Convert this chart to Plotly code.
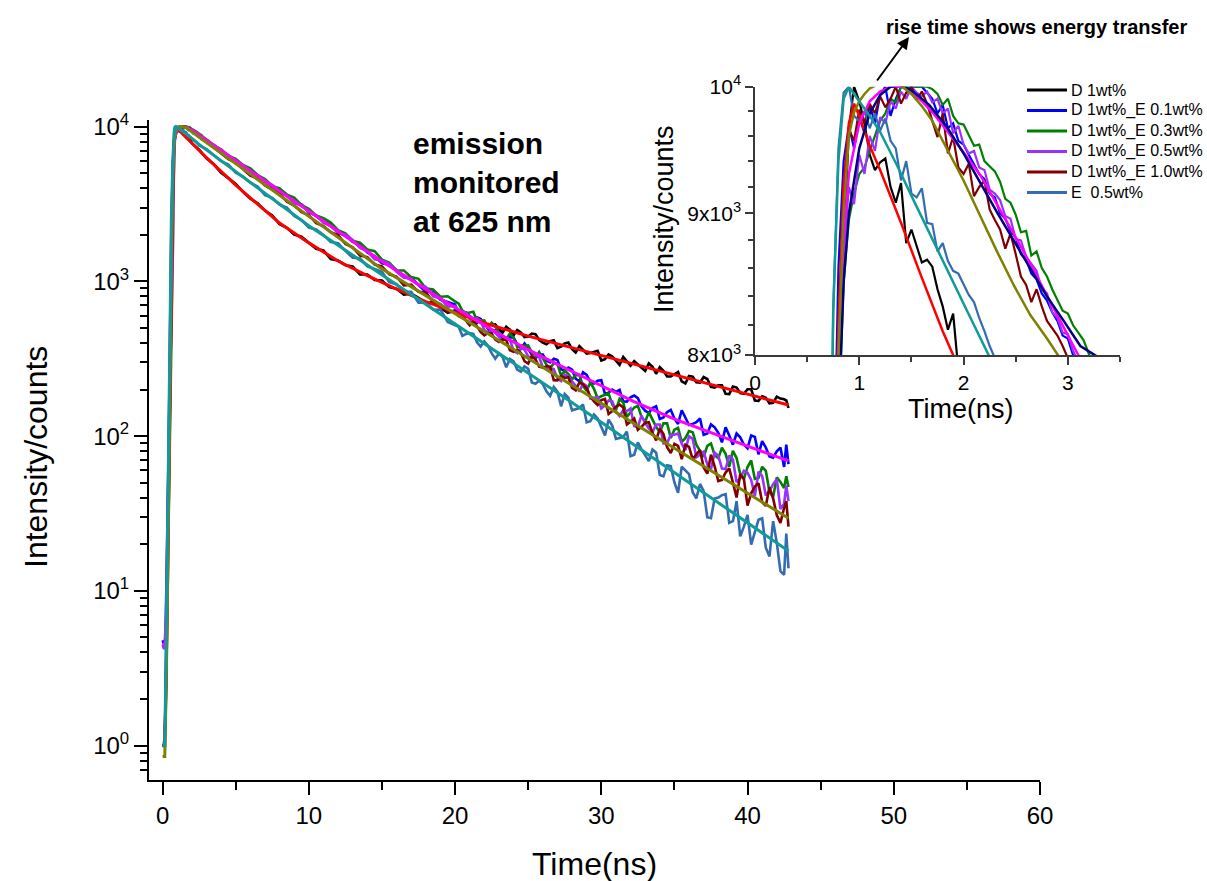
import plotly.graph_objects as go

# ------------------------------------------------------------------ data
# time grids (ns)
EARLY_T = [0.0, 0.1, 0.2, 0.3, 0.4, 0.5, 0.6]
FINE_T = [0.70, 0.75, 0.80, 0.85, 0.90, 0.95, 1.00, 1.05, 1.10, 1.15,
          1.20, 1.25, 1.30, 1.35, 1.40, 1.45, 1.50, 1.55, 1.60, 1.65,
          1.70, 1.75, 1.80, 1.85, 1.90, 1.95, 2.00, 2.05, 2.10, 2.15,
          2.20, 2.25, 2.30, 2.35, 2.40, 2.45, 2.50, 2.55, 2.60, 2.65,
          2.70, 2.75, 2.80, 2.85, 2.90, 2.95, 3.00, 3.05, 3.10, 3.15,
          3.20, 3.25]
COARSE_T = [2.5, 3.0, 3.5, 4.0, 4.5, 5.0, 5.5, 6.0, 6.5, 7.0,
            7.5, 8.0, 8.5, 9.0, 9.5, 10.0, 10.5, 11.0, 11.5, 12.0,
            12.5, 13.0, 13.5, 14.0, 14.5, 15.0, 15.5, 16.0, 16.5, 17.0,
            17.5, 18.0, 18.5, 19.0, 19.5, 20.0, 20.5, 21.0, 21.5, 22.0,
            22.5, 23.0, 23.5, 24.0, 24.5, 25.0, 25.5, 26.0, 26.5, 27.0,
            27.5, 28.0, 28.5, 29.0, 29.5, 30.0, 30.5, 31.0, 31.5, 32.0,
            32.5, 33.0, 33.5, 34.0, 34.5, 35.0, 35.5, 36.0, 36.5, 37.0,
            37.5, 38.0, 38.5, 39.0, 39.5, 40.0, 40.5, 41.0, 41.5, 42.0,
            42.5]
MID_T = [20.25, 20.75, 21.25, 21.75, 22.25, 22.75, 23.25, 23.75, 24.25, 24.75,
         25.25, 25.75, 26.25, 26.75, 27.25, 27.75, 28.25, 28.75, 29.25, 29.75,
         30.25, 30.75, 31.25, 31.75, 32.25, 32.75, 33.25, 33.75, 34.25, 34.75,
         35.25, 35.75, 36.25, 36.75, 37.25, 37.75, 38.25, 38.75, 39.25, 39.75,
         40.25, 40.75, 41.25, 41.75, 42.25]
END_T = [42.65, 42.8]

# D 1wt%  (black)
d1_early = [1.0, 1.0, 1.6, 9, 55, 320, 1600]
d1_fine = [5000, 7200, 7900, 8700, 9650, 10000, 9880, 9700, 9450, 9330,
           9390, 9420, 9200, 9080, 9230, 8780, 8880, 8760, 8640, 8660,
           8610, 8450, 8330, 8170, 8280, 7900, 7820]
d1_coarse = [7113, 6247, 5712, 5037, 4650, 4263, 3788, 3418, 3200, 2870,
             2670, 2344, 2220, 2009, 1944, 1790, 1627, 1586, 1392, 1364,
             1273, 1248, 1107, 1108, 1021, 1015, 918, 897, 822, 834,
             783, 720, 738, 675, 626, 650, 592, 590, 586, 517,
             524, 490, 509, 449, 468, 440, 456, 402, 411, 371,
             397, 365, 382, 342, 349, 308, 337, 308, 325, 285,
             290, 264, 281, 279, 243, 253, 226, 245, 223, 241,
             208, 213, 188, 209, 190, 201, 170, 181, 163, 180,
             173]
d1_mid = [598, 605, 542, 572, 521, 528, 468, 487, 485, 437,
          460, 418, 393, 416, 379, 403, 347, 364, 345, 356,
          314, 327, 289, 303, 305, 277, 295, 253, 264, 243,
          260, 219, 242, 222, 234, 206, 213, 187, 206, 188,
          201, 169, 177, 164, 175]
d1_end = [170, 152]

# D 1wt%_E 0.1wt%  (blue)
e01_early = [4.8, 4.5, 5.0, 20, 90, 420, 1500]
e01_fine = [4000, 7000, 8600, 9400, 9680, 9500, 9750, 9620, 9850, 9700,
            9930, 10000, 9760, 9900, 10000, 10000, 10000, 10000, 10000, 9950,
            9900, 9780, 9850, 9660, 9700, 9560, 9530, 9450, 9380, 9300,
            9260, 9150, 9120, 9000, 8960, 8870, 8820, 8700, 8660, 8560,
            8520, 8420, 8370, 8290, 8230, 8130, 8110, 8000, 7950]
e01_coarse = [7640, 6957, 6408, 6073, 5574, 5265, 4750, 4471, 4070, 3896,
              3590, 3274, 3146, 2797, 2655, 2437, 2321, 2048, 1984, 1799,
              1739, 1537, 1458, 1308, 1284, 1184, 1069, 1059, 946, 854,
              856, 760, 736, 708, 609, 598, 540, 544, 466, 471,
              428, 434, 367, 367, 318, 337, 300, 310, 267, 269,
              226, 249, 219, 230, 191, 193, 168, 178, 176, 146,
              152, 129, 143, 130, 147, 118, 123, 102, 119, 105,
              114, 88.1, 98.3, 83.6, 98.9, 92.8, 74.0, 79.8, 63.2]
e01_mid = [619, 631, 569, 566, 493, 484, 421, 436, 392, 397,
           336, 338, 308, 316, 270, 278, 235, 259, 224, 228,
           187, 200, 199, 167, 183, 156, 141, 156, 132, 148,
           120, 133, 120, 130, 104, 114, 91.1, 101, 104, 88.2,
           101, 76.3, 84.5, 72.7, 84.4]
e01_end = [88, 66]

# D 1wt%_E 0.3wt%  (green)
e03_early = [1.0, 1.0, 1.3, 6, 30, 150, 600]
e03_fine = [2000, 5000, 7500, 8500, 8950, 9150, 9300, 9350, 9480, 9600,
            9720, 9780, 9900, 9870, 10000, 10000, 10000, 10000, 10000, 10000,
            9980, 9940, 9850, 9900, 9760, 9700, 9690, 9600, 9520, 9530,
            9400, 9360, 9320, 9240, 9110, 9080, 8990, 8860, 8870, 8690,
            8720, 8600, 8540, 8450, 8380, 8300, 8280, 8200, 8150, 8100,
            8010, 7920]
e03_coarse = [7562, 7124, 6480, 6185, 5655, 5374, 4865, 4592, 4139, 3991,
              3638, 3474, 3114, 2940, 2669, 2559, 2402, 2142, 2042, 1831,
              1782, 1608, 1569, 1381, 1323, 1177, 1177, 1066, 1039, 903,
              887, 796, 801, 742, 648, 630, 550, 559, 540, 466,
              423, 431, 385, 386, 322, 320, 275, 292, 266, 233,
              249, 196, 202, 181, 189, 147, 165, 143, 157, 124,
              128, 106, 121, 110, 91.9, 108, 88.1, 73.5, 89.7, 71.9,
              76.9, 80.4, 56.9, 63.2, 52.9, 63.4, 43.9, 54.1, 46.2]
e03_mid = [718, 626, 636, 557, 503, 512, 447, 461, 378, 384,
           348, 350, 290, 296, 246, 252, 248, 211, 223, 176,
           184, 160, 174, 133, 153, 133, 143, 115, 121, 97.5,
           113, 97.0, 106, 79.9, 86.5, 75.3, 84.1, 63.5, 72.2, 52.9,
           69.6, 53.7, 59.6, 40.4, 50.6]
e03_end = [55, 47]

# D 1wt%_E 0.5wt%  (violet)
e05_early = [4.5, 4.2, 4.5, 12, 50, 200, 500]
e05_fine = [1500, 4500, 7600, 8700, 9200, 9070, 9450, 9300, 9600, 9480,
            9750, 9700, 9880, 9820, 9960, 9900, 10000, 9950, 9920, 9960,
            9870, 9900, 9780, 9820, 9620, 9680, 9530, 9460, 9480, 9350,
            9330, 9180, 9150, 9100, 8980, 8960, 8810, 8800, 8680, 8630,
            8580, 8450, 8420, 8290, 8250, 8150, 8140, 8030, 7950]
e05_coarse = [7398, 6998, 6532, 5911, 5573, 5063, 4833, 4404, 4210, 3780,
              3561, 3209, 3099, 2822, 2686, 2386, 2281, 2064, 2007, 1851,
              1646, 1567, 1391, 1360, 1298, 1152, 1054, 1040, 943, 920,
              800, 775, 687, 694, 637, 570, 581, 485, 482, 438,
              435, 357, 372, 328, 338, 280, 275, 236, 250, 226,
              194, 211, 177, 151, 170, 144, 147, 151, 115, 122,
              106, 119, 89.9, 102, 89.4, 99.8, 73.1, 79.4, 61.1, 74.8,
              61.3, 70.7, 53.4, 58.1, 41.0, 55.3, 44.3, 52.7, 36.6]
e05_mid = [652, 627, 554, 558, 469, 465, 414, 421, 344, 362,
           320, 324, 273, 271, 227, 244, 212, 219, 175, 179,
           158, 168, 135, 145, 116, 136, 112, 119, 89.7, 102,
           104, 81.3, 95.9, 76.3, 65.7, 78.2, 61.8, 75.0, 50.4, 59.8,
           52.2, 58.9, 41.4, 49.0, 33.8]
e05_end = [48, 38]

# D 1wt%_E 1.0wt%  (dark red)
e10_early = [1.0, 1.0, 1.5, 8, 45, 250, 1100]
e10_fine = [3500, 6200, 7900, 9200, 9650, 9560, 9810, 9700, 9860, 9780,
            9920, 9830, 9900, 10000, 9860, 9950, 10000, 9890, 9960, 9860,
            9720, 9590, 9780, 9460, 9590, 9350, 9300, 9380, 9130, 9200,
            9250, 9030, 8950, 8880, 8740, 8850, 8700, 8540, 8480, 8360,
            8450, 8330, 8230, 8180, 8130, 8060, 7970, 7900]
e10_coarse = [7353, 6765, 6156, 5853, 5306, 4832, 4614, 4174, 3922, 3684,
              3270, 3088, 2807, 2686, 2377, 2280, 2076, 1990, 1743, 1658,
              1469, 1436, 1285, 1250, 1110, 1072, 942, 953, 856, 847,
              737, 712, 635, 634, 604, 521, 514, 448, 460, 406,
              417, 351, 345, 294, 313, 277, 281, 229, 238, 205,
              222, 204, 168, 171, 139, 155, 153, 124, 110, 122,
              105, 112, 84.7, 89.2, 71.1, 85.2, 76.2, 62.8, 75.9, 51.3,
              58.2, 50.2, 56.7, 35.6, 47.3, 37.5, 46.7, 30.9, 34.3]
e10_mid = [621, 558, 556, 471, 465, 421, 423, 359, 363, 305,
           329, 281, 283, 230, 244, 240, 198, 216, 180, 159,
           174, 145, 160, 119, 130, 115, 123, 93.8, 103, 77.8,
           86.4, 87.9, 70.9, 81.4, 57.2, 63.9, 52.1, 61.9, 40.1, 52.9,
           42.7, 49.7, 35.4, 39.6, 27.5]
e10_end = [38, 26]

# E 0.5wt%  (steel blue)
eonly_early = [1.0, 1.0, 1.8, 12, 80, 500, 2200]
eonly_fine = [5500, 8300, 9500, 9950, 10000, 9760, 9720, 9800, 9660, 9780,
              9640, 9740, 9560, 9500, 9250, 9400, 9150, 9120, 9190, 8930,
              8920, 8720, 8780, 8650, 8580, 8560, 8480, 8410, 8360, 8250,
              8160, 8060, 7980, 7880]
eonly_coarse = [7551, 7164, 6570, 5978, 5687, 5042, 4756, 4343, 4104, 3611,
                3469, 3134, 2999, 2649, 2490, 2227, 2168, 1998, 1797, 1766,
                1575, 1420, 1411, 1252, 1204, 1155, 988, 959, 859, 858,
                728, 729, 656, 657, 546, 523, 445, 463, 404, 410,
                344, 342, 279, 304, 261, 272, 218, 217, 182, 194,
                187, 147, 152, 123, 138, 114, 128, 96, 98.7, 74.3,
                91.3, 74.7, 82.0, 56.1, 64.8, 50.2, 63.4, 56.8, 39.6, 44.1,
                29.5, 40.1, 42.2, 28.2, 22.5, 31.0, 24.0, 29.4, 16.7, 20.5,
                12.7]
eonly_mid = [508, 458, 458, 379, 384, 317, 324, 315, 269, 283,
             222, 228, 195, 208, 156, 177, 150, 160, 125, 130,
             101, 117, 97.4, 107, 75.9, 82.2, 69.0, 78.1, 55.0, 64.0,
             43.1, 60.1, 43.4, 49.1, 29.9, 39.5, 41.6, 27.5, 38.0, 26.0,
             19.9, 28.8, 19.0, 28.2, 13.4]
eonly_end = [23.5, 14]

# fitted curves
fit_d1_t = [0, 0.15, 0.3, 0.45, 0.6, 0.7, 0.75, 0.8, 0.85, 0.9, 0.95, 1.0, 1.1, 1.2,
            1.4, 1.6, 1.8, 1.9, 2.0, 2.5, 3, 4, 5, 6, 7, 8, 10, 12, 14, 16, 18,
            20, 22, 25, 28, 31, 34, 37, 40, 42.8]
fit_d1_y = [1.0, 1.0, 6, 90, 1300, 4700, 6800, 8200, 9200, 9700, 9860, 9760, 9520, 9330,
            8930, 8530, 8160, 8000, 7820, 7015, 6310, 5129, 4188, 3467, 2877, 2382, 1774,
            1355, 1091, 893, 741, 630, 538, 443, 372, 313, 264, 222, 187, 159]

fit_e01_t = [0, 0.15, 0.3, 0.45, 0.6, 0.7, 0.75, 0.8, 0.85, 0.9, 1.0, 1.1, 1.2, 1.3, 1.4,
             1.5, 1.6, 1.72, 1.84, 2.0, 2.16, 2.32, 2.48, 2.64, 2.8, 2.95, 3.1, 4, 5, 6,
             8, 10, 12, 14.85, 17, 20, 23.75, 26, 29.9, 32.2, 35, 38, 40, 42.8]
fit_e01_y = [4.5, 4.5, 8, 150, 1800, 5200, 7000, 8000, 8800, 9300, 9700, 9880, 9960, 10000,
             10000, 9960, 9880, 9770, 9640, 9470, 9290, 9070, 8850, 8630, 8410, 8200, 8000,
             6992, 6019, 5182, 3842, 2848, 2111, 1377, 1023, 676, 417, 324, 214, 168, 129,
             101, 86.1, 69.2]

fit_e03_t = [0.75, 0.8, 0.85, 0.9, 1.0, 1.1, 1.2, 1.3, 1.4, 1.5, 1.67, 1.84, 2.0, 2.16,
             2.32, 2.48, 2.64, 2.8, 2.96, 3.12, 3.28, 3.4]
fit_e03_y = [5500, 7600, 8500, 9000, 9500, 9780, 9930, 10000, 10010, 9970, 9850, 9670,
             9460, 9230, 9010, 8800, 8600, 8400, 8230, 8060, 7990, 7880]

fit_e10_t = [0, 0.15, 0.3, 0.45, 0.6, 0.7, 0.75, 0.8, 0.85, 0.9, 0.95, 1.0, 1.05, 1.1, 1.2,
             1.3, 1.4, 1.5, 1.6, 1.7, 1.84, 2.0, 2.16, 2.32, 2.48, 2.64, 2.8, 2.92, 3.0,
             4, 5, 6, 8, 10, 12, 14.85, 18, 21, 24, 27, 30, 33, 36, 39, 42.8]
fit_e10_y = [0.85, 0.85, 5, 100, 1400, 5000, 6800, 8000, 9000, 9600, 9790, 9880, 9940, 9985,
             10030, 10040, 10010, 9940, 9840, 9720, 9500, 9250, 8980, 8720, 8480, 8270, 8110,
             7990, 7900, 6738, 5761, 4926, 3601, 2633, 1925, 1232, 809, 542, 363, 243, 163,
             109, 73.1, 49.0, 29.5]

fit_eonly_t = [0, 0.15, 0.3, 0.45, 0.6, 0.7, 0.75, 0.8, 0.85, 0.9, 0.95, 1.0, 1.1, 1.2, 1.36,
               1.52, 1.68, 1.84, 2.04, 2.24, 2.5, 3, 4, 5, 6, 8, 10, 12, 15, 18, 21, 24, 27,
               30, 33, 36, 39, 42.8]
fit_eonly_y = [1.0, 1.0, 12, 250, 2600, 6200, 8300, 9400, 9900, 10000, 9940, 9870, 9760, 9630,
               9370, 9100, 8840, 8590, 8290, 8000, 7674, 7079, 6026, 5129, 4365, 3162, 2291,
               1710, 1104, 711, 458, 296, 191, 123, 78.5, 50.1, 32.0, 18.1]

MAIN_XTICKS = [0, 10, 20, 30, 40, 50, 60]
MAIN_YTICKS = [1, 10, 100, 1000, 10000]
MAIN_YTICKTEXT = ["10<sup>0</sup>", "10<sup>1</sup>", "10<sup>2</sup>", "10<sup>3</sup>", "10<sup>4</sup>"]
INSET_XTICKS = [0, 1, 2, 3]
INSET_YTICKS = [8000, 9000, 10000]
INSET_YTICKTEXT = ["8x10<sup>3</sup>", "9x10<sup>3</sup>", "10<sup>4</sup>"]

# ------------------------------------------------------------------ build
W, H = 1207, 881
FONT = "Arial, Liberation Sans, sans-serif"


def px_x(p):
    return p / W


def px_y(p):
    return 1 - p / H


def merged(t_parts, y_parts):
    ts, ys = [], []
    for a in t_parts:
        ts += a
    for b in y_parts:
        ys += b
    pairs = sorted(zip(ts, ys))
    return [p[0] for p in pairs], [p[1] for p in pairs]


series = [
    ("D 1wt%", merged([EARLY_T, FINE_T[:27], COARSE_T, MID_T, END_T],
                      [d1_early, d1_fine, d1_coarse, d1_mid, d1_end]), "#000000"),
    ("D 1wt%_E 0.1wt%", merged([EARLY_T, FINE_T[:49], COARSE_T[2:], MID_T, END_T],
                               [e01_early, e01_fine, e01_coarse, e01_mid, e01_end]), "#0000FF"),
    ("D 1wt%_E 0.3wt%", merged([EARLY_T, FINE_T[:52], COARSE_T[2:], MID_T, END_T],
                               [e03_early, e03_fine, e03_coarse, e03_mid, e03_end]), "#008000"),
    ("D 1wt%_E 0.5wt%", merged([EARLY_T, FINE_T[:49], COARSE_T[2:], MID_T, END_T],
                               [e05_early, e05_fine, e05_coarse, e05_mid, e05_end]), "#9932FF"),
    ("D 1wt%_E 1.0wt%", merged([EARLY_T, FINE_T[:48], COARSE_T[2:], MID_T, END_T],
                               [e10_early, e10_fine, e10_coarse, e10_mid, e10_end]), "#800000"),
    ("E  0.5wt%", merged([EARLY_T, FINE_T[:34], COARSE_T, MID_T, END_T],
                         [eonly_early, eonly_fine, eonly_coarse, eonly_mid, eonly_end]), "#336CB0"),
]

fits_main = [
    (fit_d1_t, fit_d1_y, "#FF0000"),
    (fit_e01_t, fit_e01_y, "#FF00FF"),
    (fit_e10_t, fit_e10_y, "#808000"),
    (fit_eonly_t, fit_eonly_y, "#119A9A"),
]
fits_inset = [
    (fit_d1_t, fit_d1_y, "#FF0000"),
    (fit_e01_t, fit_e01_y, "#FF00FF"),
    (fit_e03_t, fit_e03_y, "#000080"),
    (fit_e10_t, fit_e10_y, "#808000"),
    (fit_eonly_t, fit_eonly_y, "#119A9A"),
]

fig = go.Figure()

for name, (t, y), c in series:
    fig.add_trace(go.Scatter(x=t, y=y, mode="lines", name=name,
                             line=dict(color=c, width=2.6),
                             xaxis="x", yaxis="y", showlegend=False))
for t, y, c in fits_main:
    fig.add_trace(go.Scatter(x=t, y=y, mode="lines", line=dict(color=c, width=3),
                             xaxis="x", yaxis="y", showlegend=False, hoverinfo="skip"))

for name, (t, y), c in series:
    fig.add_trace(go.Scatter(x=t, y=y, mode="lines", name=name,
                             line=dict(color=c, width=2.2),
                             xaxis="x2", yaxis="y2", showlegend=False))
for t, y, c in fits_inset:
    fig.add_trace(go.Scatter(x=t, y=y, mode="lines", line=dict(color=c, width=2.5),
                             xaxis="x2", yaxis="y2", showlegend=False, hoverinfo="skip"))

main_minor_y = [0.7, 0.8, 0.9,
                2, 3, 4, 5, 6, 7, 8, 9,
                20, 30, 40, 50, 60, 70, 80, 90,
                200, 300, 400, 500, 600, 700, 800, 900,
                2000, 3000, 4000, 5000, 6000, 7000, 8000, 9000]

fig.update_layout(
    width=W, height=H,
    margin=dict(l=0, r=0, t=0, b=0, autoexpand=False),
    paper_bgcolor="white", plot_bgcolor="white",
    font=dict(family=FONT, color="black"),
    showlegend=False,
    xaxis=dict(domain=[px_x(149), px_x(1040)], range=[-0.93, 60], anchor="y",
               automargin=False,
               showline=True, linecolor="black", linewidth=2, mirror=False,
               ticks="outside", ticklen=13, tickwidth=2, tickcolor="black",
               tickvals=MAIN_XTICKS, tickfont=dict(size=24),
               minor=dict(tickvals=[5, 15, 25, 35, 45, 55], ticks="outside",
                          ticklen=8, tickwidth=2, tickcolor="black"),
               showgrid=False, zeroline=False),
    yaxis=dict(domain=[px_y(780), px_y(120)], type="log", range=[-0.222, 4.043],
               anchor="x", automargin=False,
               showline=True, linecolor="black", linewidth=2,
               ticks="outside", ticklen=13, tickwidth=2, tickcolor="black",
               tickvals=MAIN_YTICKS, ticktext=MAIN_YTICKTEXT, tickfont=dict(size=24),
               minor=dict(tickvals=main_minor_y, ticks="outside", ticklen=7,
                          tickwidth=2, tickcolor="black"),
               showgrid=False, zeroline=False),
    xaxis2=dict(domain=[px_x(755), px_x(1120)], range=[0, 3.5], anchor="y2",
                automargin=False,
                showline=True, linecolor="#3a3a3a", linewidth=1.5,
                ticks="outside", ticklen=8, tickwidth=1.5, tickcolor="#3a3a3a",
                tickvals=INSET_XTICKS, tickfont=dict(size=21),
                minor=dict(tickvals=[0.5, 1.5, 2.5, 3.5], ticks="outside", ticklen=5,
                           tickwidth=1.5, tickcolor="#3a3a3a"),
                showgrid=False, zeroline=False),
    yaxis2=dict(domain=[px_y(355), px_y(86.7)], type="log", range=[3.90309, 4.0],
                anchor="x2", automargin=False,
                showline=True, linecolor="#3a3a3a", linewidth=1.5,
                ticks="outside", ticklen=8, tickwidth=1.5, tickcolor="#3a3a3a",
                tickvals=INSET_YTICKS, ticktext=INSET_YTICKTEXT, tickfont=dict(size=21),
                minor=dict(tickvals=[8200, 8400, 8600, 8800, 9200, 9400, 9600, 9800],
                           ticks="outside", ticklen=5, tickwidth=1.5, tickcolor="#3a3a3a"),
                showgrid=False, zeroline=False),
)

annotations = [
    dict(text="Time(ns)", x=px_x(594), y=px_y(864), xref="paper", yref="paper",
         showarrow=False, font=dict(size=32), xanchor="center", yanchor="middle"),
    dict(text="Intensity/counts", x=px_x(36), y=px_y(457), xref="paper", yref="paper",
         showarrow=False, font=dict(size=32), textangle=-90, xanchor="center", yanchor="middle"),
    dict(text="Time(ns)", x=px_x(961), y=px_y(409), xref="paper", yref="paper",
         showarrow=False, font=dict(size=27), xanchor="center", yanchor="middle"),
    dict(text="Intensity/counts", x=px_x(664), y=px_y(219), xref="paper", yref="paper",
         showarrow=False, font=dict(size=27), textangle=-90, xanchor="center", yanchor="middle"),
    dict(text="<b>emission<br>monitored<br>at 625 nm</b>", x=px_x(411), y=px_y(183),
         xref="paper", yref="paper", showarrow=False, font=dict(size=30),
         align="left", xanchor="left", yanchor="middle"),
    dict(text="<b>rise time shows energy transfer</b>", x=px_x(1036), y=px_y(27),
         xref="paper", yref="paper", showarrow=False, font=dict(size=20),
         xanchor="center", yanchor="middle"),
    dict(text="", x=px_x(909), y=px_y(37), xref="paper", yref="paper",
         showarrow=True, ax=-33, ay=45, axref="pixel", ayref="pixel",
         arrowhead=2, arrowsize=1.2, arrowwidth=2, arrowcolor="black", standoff=0),
]

# legend (key lines + labels inside the inset area)
LEGEND_ROWS = [90, 110.5, 131, 151.5, 172, 192.5]
shapes = []
for (name, _ty, c), ry in zip(series, LEGEND_ROWS):
    shapes.append(dict(type="line", xref="paper", yref="paper",
                       x0=px_x(1027), x1=px_x(1067), y0=px_y(ry), y1=px_y(ry),
                       line=dict(color=c, width=3)))
    annotations.append(dict(text=name, x=px_x(1069), y=px_y(ry), xref="paper", yref="paper",
                            showarrow=False, font=dict(size=16), xanchor="left",
                            yanchor="middle"))

fig.update_layout(annotations=annotations, shapes=shapes)

fig.write_html("out.html", config={"displayModeBar": False},
               post_script="document.body.style.margin='0px';")
